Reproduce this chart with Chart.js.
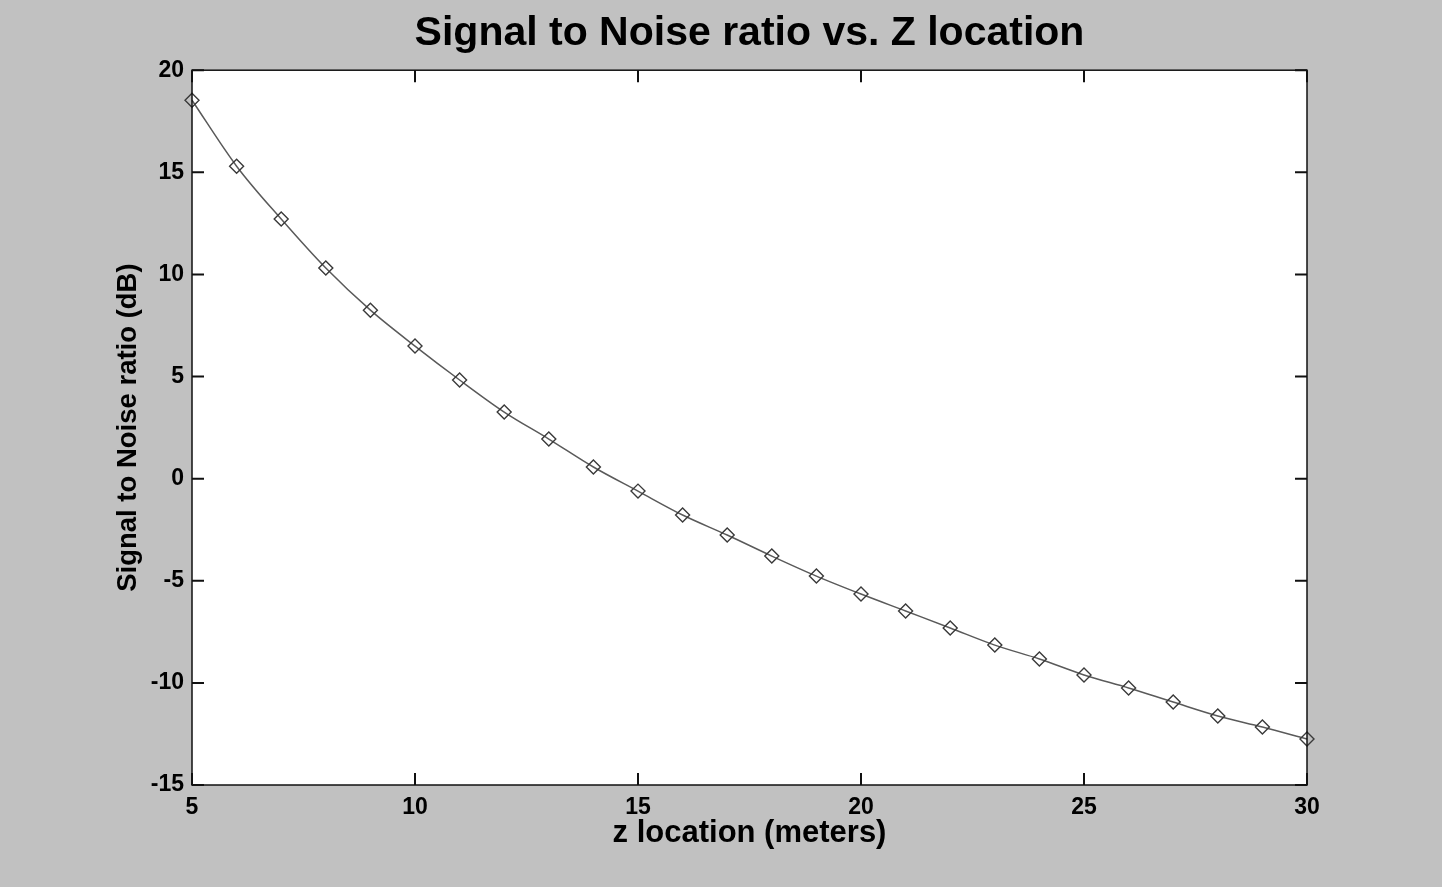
<!DOCTYPE html>
<html>
<head>
<meta charset="utf-8">
<title>Signal to Noise ratio vs. Z location</title>
<script src="https://cdn.jsdelivr.net/npm/chart.js@4/dist/chart.umd.min.js"></script>
<style>
  html, body { margin: 0; padding: 0; background: #c1c1c1; }
  #wrap { width: 1442px; height: 887px; }
</style>
</head>
<body>
<div id="wrap"><canvas id="snr-chart" width="1442" height="887"></canvas></div>
<script>
// z positions (m) and measured SNR (dB)
const zLocation = [5, 6, 7, 8, 9, 10, 11, 12, 13, 14, 15, 16, 17, 18, 19, 20,
                   21, 22, 23, 24, 25, 26, 27, 28, 29, 30];
const snrDb = [18.53, 15.30, 12.71, 10.31, 8.25, 6.49, 4.83, 3.26, 1.94, 0.57,
               -0.61, -1.78, -2.76, -3.79, -4.77, -5.65, -6.48, -7.31, -8.15, -8.83,
               -9.61, -10.25, -10.94, -11.62, -12.16, -12.75];
const xTicks = [5, 10, 15, 20, 25, 30];
const yTicks = [-15, -10, -5, 0, 5, 10, 15, 20];

const FONT = "'Liberation Sans', Arial, Helvetica, sans-serif";

// matlab style frame: white axes, box round them with short inward ticks on every side
const boxTicks = {
    id: 'boxTicks',
    afterLayout(chart) {
        // centre the title over the axes, not over the whole canvas
        const t = chart.titleBlock;
        if (t) {
            t.left = chart.chartArea.left;
            t.right = chart.chartArea.right;
            t.width = t.right - t.left;
        }
    },
    beforeDraw(chart) {
        const {ctx, chartArea: a} = chart;
        ctx.save();
        ctx.fillStyle = '#ffffff';
        ctx.fillRect(a.left, a.top, a.right - a.left, a.bottom - a.top);
        ctx.restore();
    },
    afterDraw(chart) {
        const {ctx, chartArea: a, scales} = chart;
        const len = 12;
        ctx.save();
        ctx.strokeStyle = '#111';
        ctx.lineWidth = 1.5;
        ctx.strokeRect(a.left, a.top, a.right - a.left, a.bottom - a.top);
        ctx.lineWidth = 2;
        ctx.beginPath();
        xTicks.forEach(v => {
            const px = scales.x.getPixelForValue(v);
            ctx.moveTo(px, a.bottom); ctx.lineTo(px, a.bottom - len);
            ctx.moveTo(px, a.top);    ctx.lineTo(px, a.top + len);
        });
        yTicks.forEach(v => {
            const py = scales.y.getPixelForValue(v);
            ctx.moveTo(a.left, py);  ctx.lineTo(a.left + len, py);
            ctx.moveTo(a.right, py); ctx.lineTo(a.right - len, py);
        });
        ctx.stroke();
        ctx.restore();
    }
};

const ctx = document.getElementById('snr-chart');
new Chart(ctx, {
    type: 'line',
    data: {
        datasets: [{
            data: zLocation.map((z, i) => ({x: z, y: snrDb[i]})),
            borderColor: '#5a5a5a',
            borderWidth: 1.5,
            cubicInterpolationMode: 'monotone',
            pointStyle: 'rectRot',
            pointRadius: 7,
            pointBorderWidth: 1.4,
            pointBorderColor: '#3a3a3a',
            pointBackgroundColor: 'rgba(0,0,0,0)',
            fill: false,
            clip: 10
        }]
    },
    options: {
        responsive: false,
        animation: false,
        layout: { padding: { left: 0, right: 135, top: 0, bottom: 0 } },
        plugins: {
            legend: { display: false },
            tooltip: { enabled: false },
            title: {
                display: true,
                text: 'Signal to Noise ratio vs. Z location',
                color: '#000',
                font: { family: FONT, size: 41, weight: 'bold' },
                padding: { top: 9, bottom: 12 }
            }
        },
        scales: {
            x: {
                type: 'linear',
                min: 5, max: 30,
                afterBuildTicks: s => { s.ticks = xTicks.map(v => ({value: v})); },
                afterFit: s => { s.height = 102; },
                grid: { display: false, drawTicks: false },
                border: { display: false },
                ticks: { color: '#000', padding: 9, font: { family: FONT, size: 23, weight: 'bold' } },
                title: {
                    display: true,
                    text: 'z location (meters)',
                    color: '#000',
                    font: { family: FONT, size: 31, weight: 'bold' },
                    padding: { top: 0, bottom: 35 }
                }
            },
            y: {
                type: 'linear',
                min: -15, max: 20,
                afterBuildTicks: s => { s.ticks = yTicks.map(v => ({value: v})); },
                afterFit: s => { s.width = 192; },
                grid: { display: false, drawTicks: false },
                border: { display: false },
                ticks: { color: '#000', padding: 8, font: { family: FONT, size: 23, weight: 'bold' } },
                title: {
                    display: true,
                    text: 'Signal to Noise ratio (dB)',
                    color: '#000',
                    font: { family: FONT, size: 27.5, weight: 'bold' },
                    padding: { top: 112, bottom: 0 }
                }
            }
        }
    },
    plugins: [boxTicks]
});
</script>
</body>
</html>
